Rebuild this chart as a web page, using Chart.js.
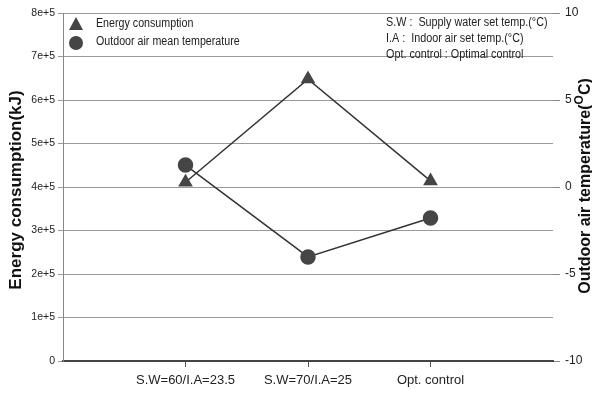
<!DOCTYPE html>
<html>
<head>
<meta charset="utf-8">
<script src="https://cdn.jsdelivr.net/npm/chart.js@4.4.1/dist/chart.umd.min.js"></script>
<style>
html,body{margin:0;padding:0;background:#fff;}
#wrap{width:592px;height:396px;position:relative;}
</style>
</head>
<body>
<div id="wrap"><canvas id="c" width="592" height="396"></canvas></div>
<script>
const categories = ['S.W=60/I.A=23.5', 'S.W=70/I.A=25', 'Opt. control'];
const energy = [4.11e5, 6.48e5, 4.14e5];
const temperature = [1.26, -4.02, -1.78];
const energyTicks = ['0', '1e+5', '2e+5', '3e+5', '4e+5', '5e+5', '6e+5', '7e+5', '8e+5'];
const tempTicks = ['-10', '-5', '0', '5', '10'];
const legendLabels = ['Energy consumption', 'Outdoor air mean temperature'];
const noteLines = ['S.W :  Supply water set temp.(\u00B0C)', 'I.A :  Indoor air set temp.(\u00B0C)', 'Opt. control : Optimal control'];
const leftTitle = 'Energy consumption(kJ)';
const rightTitle = ['Outdoor air temperature(', 'O', 'C)'];

const FONT = '"Liberation Sans", Arial, sans-serif';
const MARK = '#454545';

function squeezed(ctx, text, x, y, sx) {
  ctx.save();
  ctx.translate(x, y);
  ctx.scale(sx, 1);
  ctx.fillText(text, 0, 0);
  ctx.restore();
}

const decor = {
  id: 'decor',
  afterDraw(chart) {
    const ctx = chart.ctx;
    ctx.save();
    // legend markers
    ctx.fillStyle = MARK;
    ctx.beginPath();
    ctx.moveTo(76, 17); ctx.lineTo(83, 30); ctx.lineTo(69, 30); ctx.closePath(); ctx.fill();
    ctx.beginPath(); ctx.arc(76, 43, 7, 0, Math.PI * 2); ctx.fill();
    // legend text
    ctx.fillStyle = '#222';
    ctx.font = '12px ' + FONT;
    ctx.textBaseline = 'middle';
    ctx.textAlign = 'left';
    squeezed(ctx, legendLabels[0], 96, 24, 0.89);
    squeezed(ctx, legendLabels[1], 96, 42, 0.89);
    // notes
    noteLines.forEach((t, i) => squeezed(ctx, t, 386, 23 + i * 16, 0.9));
    // left title
    ctx.font = 'bold 17px ' + FONT;
    ctx.fillStyle = '#111';
    ctx.save();
    ctx.translate(16, 190);
    ctx.rotate(-Math.PI / 2);
    ctx.textAlign = 'center';
    ctx.fillText(leftTitle, 0, 0);
    ctx.restore();
    // right title with superscript
    ctx.save();
    ctx.translate(586, 186);
    ctx.rotate(-Math.PI / 2);
    ctx.font = 'bold 16px ' + FONT;
    const w0 = ctx.measureText(rightTitle[0]).width;
    ctx.font = 'bold 12px ' + FONT;
    const w1 = ctx.measureText(rightTitle[1]).width;
    ctx.font = 'bold 16px ' + FONT;
    const w2 = ctx.measureText(rightTitle[2]).width;
    let x = -(w0 + w1 + w2) / 2;
    ctx.textAlign = 'left';
    ctx.fillText(rightTitle[0], x, 0); x += w0;
    ctx.font = 'bold 12px ' + FONT;
    ctx.fillText(rightTitle[1], x, -6); x += w1;
    ctx.font = 'bold 16px ' + FONT;
    ctx.fillText(rightTitle[2], x, 0);
    ctx.restore();
    ctx.restore();
  }
};

new Chart(document.getElementById('c'), {
  type: 'line',
  data: {
    datasets: [
      {
        label: legendLabels[0],
        data: energy.map((v, i) => ({ x: i + 1, y: v })),
        yAxisID: 'y',
        borderColor: '#333',
        borderWidth: 1.5,
        backgroundColor: MARK,
        pointBackgroundColor: MARK,
        pointBorderColor: MARK,
        pointStyle: 'triangle',
        pointRadius: 7,
        tension: 0
      },
      {
        label: legendLabels[1],
        data: temperature.map((v, i) => ({ x: i + 1, y: v })),
        yAxisID: 'y2',
        borderColor: '#333',
        borderWidth: 1.5,
        backgroundColor: MARK,
        pointBackgroundColor: MARK,
        pointBorderColor: MARK,
        pointStyle: 'circle',
        pointRadius: 7,
        tension: 0
      }
    ]
  },
  options: {
    responsive: false,
    animation: false,
    layout: { padding: { top: 13, left: 0, right: 0, bottom: 0 } },
    plugins: { legend: { display: false }, tooltip: { enabled: false } },
    scales: {
      x: {
        type: 'linear',
        min: 0, max: 4,
        afterBuildTicks: s => { s.ticks = categories.map((c, i) => ({ value: i + 1 })); },
        afterFit: s => { s.height = 35; },
        ticks: {
          callback: v => categories[v - 1] || '',
          font: { size: 13, family: FONT },
          color: '#222',
          padding: 6,
          maxRotation: 0,
          autoSkip: false
        },
        grid: { drawOnChartArea: false, drawTicks: true, tickLength: 6, color: '#555' },
        border: { color: '#444', width: 2 }
      },
      y: {
        position: 'left',
        min: 0, max: 8e5,
        afterFit: s => { s.width = 63; },
        ticks: {
          stepSize: 1e5,
          callback: (v, i) => energyTicks[i],
          font: { size: 10.5, family: FONT },
          color: '#222',
          padding: 3
        },
        grid: { color: '#9a9a9a', tickLength: 5, lineWidth: 1 },
        border: { color: '#888', width: 1 }
      },
      y2: {
        position: 'right',
        min: -10, max: 10,
        afterFit: s => { s.width = 39; },
        ticks: {
          stepSize: 5,
          callback: (v, i) => tempTicks[i],
          font: { size: 12, family: FONT },
          color: '#222',
          padding: 5
        },
        grid: { drawOnChartArea: false, tickLength: 7, color: '#888' },
        border: { display: false }
      }
    }
  },
  plugins: [decor]
});
</script>
</body>
</html>
